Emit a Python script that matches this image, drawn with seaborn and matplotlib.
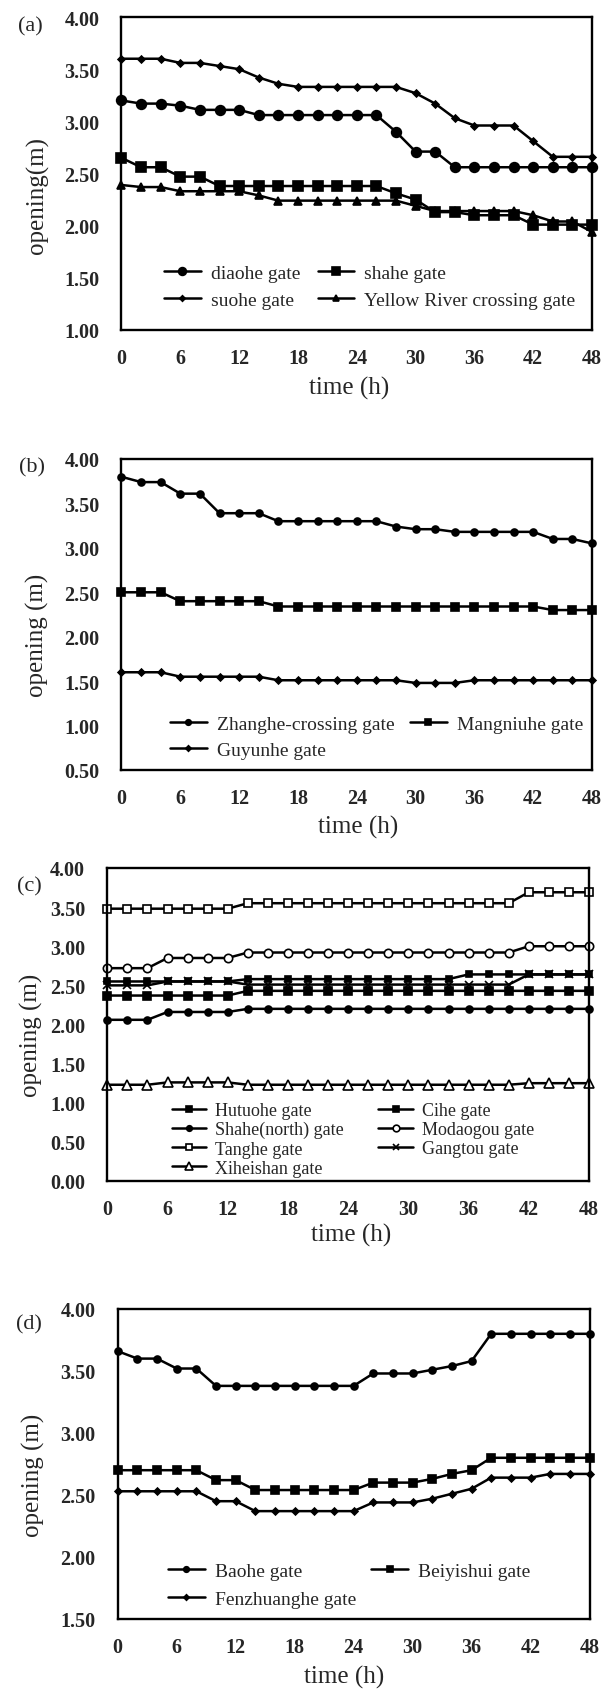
import matplotlib
matplotlib.use('Agg')
import matplotlib.pyplot as plt
import seaborn as sns

# time axis (h), one value every 2 hours
time_h = [0, 2, 4, 6, 8, 10, 12, 14, 16, 18, 20, 22, 24,
          26, 28, 30, 32, 34, 36, 38, 40, 42, 44, 46, 48]
xticks = [0, 6, 12, 18, 24, 30, 36, 42, 48]

# (a)
diaohe = [3.20, 3.17, 3.17, 3.15, 3.11, 3.11, 3.11, 3.06, 3.06, 3.06, 3.06, 3.06, 3.06,
          3.06, 2.90, 2.71, 2.71, 2.56, 2.56, 2.56, 2.56, 2.56, 2.56, 2.56, 2.56]
shahe = [2.65, 2.56, 2.56, 2.47, 2.47, 2.38, 2.38, 2.38, 2.38, 2.38, 2.38, 2.38, 2.38,
         2.38, 2.31, 2.25, 2.13, 2.13, 2.10, 2.10, 2.10, 2.01, 2.01, 2.01, 2.01]
suohe = [3.60, 3.60, 3.60, 3.56, 3.56, 3.53, 3.50, 3.42, 3.36, 3.33, 3.33, 3.33, 3.33,
         3.33, 3.33, 3.27, 3.17, 3.03, 2.96, 2.96, 2.96, 2.81, 2.66, 2.66, 2.66]
yellow_river = [2.39, 2.37, 2.37, 2.33, 2.33, 2.33, 2.33, 2.29, 2.24, 2.24, 2.24, 2.24, 2.24,
                2.24, 2.24, 2.19, 2.14, 2.14, 2.14, 2.14, 2.14, 2.10, 2.04, 2.04, 1.94]

# (b)
zhanghe = [3.80, 3.74, 3.74, 3.61, 3.61, 3.39, 3.39, 3.39, 3.30, 3.30, 3.30, 3.30, 3.30,
           3.30, 3.24, 3.21, 3.21, 3.18, 3.18, 3.18, 3.18, 3.18, 3.10, 3.10, 3.05]
mangniuhe = [2.50, 2.50, 2.50, 2.40, 2.40, 2.40, 2.40, 2.40, 2.34, 2.34, 2.34, 2.34, 2.34,
             2.34, 2.34, 2.34, 2.34, 2.34, 2.34, 2.34, 2.34, 2.34, 2.30, 2.30, 2.30]
guyunhe = [1.60, 1.60, 1.60, 1.55, 1.55, 1.55, 1.55, 1.55, 1.51, 1.51, 1.51, 1.51, 1.51,
           1.51, 1.51, 1.48, 1.48, 1.48, 1.51, 1.51, 1.51, 1.51, 1.51, 1.51, 1.51]

# (c)
hutuohe = [2.55, 2.55, 2.55, 2.55, 2.55, 2.55, 2.55, 2.58, 2.58, 2.58, 2.58, 2.58, 2.58,
           2.58, 2.58, 2.58, 2.58, 2.58, 2.64, 2.64, 2.64, 2.64, 2.64, 2.64, 2.64]
cihe = [2.37, 2.37, 2.37, 2.37, 2.37, 2.37, 2.37, 2.43, 2.43, 2.43, 2.43, 2.43, 2.43,
        2.43, 2.43, 2.43, 2.43, 2.43, 2.43, 2.43, 2.43, 2.43, 2.43, 2.43, 2.43]
shahe_north = [2.06, 2.06, 2.06, 2.16, 2.16, 2.16, 2.16, 2.20, 2.20, 2.20, 2.20, 2.20, 2.20,
               2.20, 2.20, 2.20, 2.20, 2.20, 2.20, 2.20, 2.20, 2.20, 2.20, 2.20, 2.20]
modaogou = [2.72, 2.72, 2.72, 2.85, 2.85, 2.85, 2.85, 2.92, 2.92, 2.92, 2.92, 2.92, 2.92,
            2.92, 2.92, 2.92, 2.92, 2.92, 2.92, 2.92, 2.92, 3.00, 3.00, 3.00, 3.00]
tanghe = [3.48, 3.48, 3.48, 3.48, 3.48, 3.48, 3.48, 3.55, 3.55, 3.55, 3.55, 3.55, 3.55,
          3.55, 3.55, 3.55, 3.55, 3.55, 3.55, 3.55, 3.55, 3.69, 3.69, 3.69, 3.69]
gangtou = [2.50, 2.50, 2.50, 2.55, 2.55, 2.55, 2.55, 2.51, 2.51, 2.51, 2.51, 2.51, 2.51,
           2.51, 2.51, 2.51, 2.51, 2.51, 2.51, 2.51, 2.51, 2.64, 2.64, 2.64, 2.64]
xiheishan = [1.23, 1.23, 1.23, 1.26, 1.26, 1.26, 1.26, 1.23, 1.23, 1.23, 1.23, 1.23, 1.23,
             1.23, 1.23, 1.23, 1.23, 1.23, 1.23, 1.23, 1.23, 1.25, 1.25, 1.25, 1.25]

# (d)
baohe = [3.66, 3.60, 3.60, 3.52, 3.52, 3.38, 3.38, 3.38, 3.38, 3.38, 3.38, 3.38, 3.38,
         3.48, 3.48, 3.48, 3.51, 3.54, 3.58, 3.80, 3.80, 3.80, 3.80, 3.80, 3.80]
beiyishui = [2.70, 2.70, 2.70, 2.70, 2.70, 2.62, 2.62, 2.54, 2.54, 2.54, 2.54, 2.54, 2.54,
             2.60, 2.60, 2.60, 2.63, 2.67, 2.70, 2.80, 2.80, 2.80, 2.80, 2.80, 2.80]
fenzhuanghe = [2.53, 2.53, 2.53, 2.53, 2.53, 2.45, 2.45, 2.37, 2.37, 2.37, 2.37, 2.37, 2.37,
               2.44, 2.44, 2.44, 2.47, 2.51, 2.55, 2.64, 2.64, 2.64, 2.67, 2.67, 2.67]

sns.set_theme(style='white')
plt.rcParams['font.family'] = ['Liberation Serif', 'DejaVu Serif']

W, H = 605, 1690
fig = plt.figure(figsize=(W / 100, H / 100), dpi=100)


def px_axes(left, top, right, bottom):
    return fig.add_axes([left / W, 1 - bottom / H, (right - left) / W, (bottom - top) / H])


def draw(ax, series, ylim, yticks):
    lines = {}
    for label, vals, mk, ms, face in series:
        sns.lineplot(x=time_h, y=vals, ax=ax, color='black', linewidth=1.8,
                     marker=mk, markersize=ms, markerfacecolor=face,
                     markeredgecolor='black', markeredgewidth=1.2,
                     clip_on=False, label=label)
        lines[label] = ax.lines[-1]
    ax.set_xlim(0, 48)
    ax.set_ylim(*ylim)
    ax.set_xticks(xticks)
    ax.set_yticks(yticks)
    ax.set_yticklabels(['%.2f' % v for v in yticks])
    ax.tick_params(axis='both', length=0, labelsize=14.5)
    ax.tick_params(axis='y', pad=16)
    ax.tick_params(axis='x', pad=13)
    for lab in ax.get_xticklabels() + ax.get_yticklabels():
        lab.set_fontweight('bold')
    for sp in ax.spines.values():
        sp.set_visible(True)
        sp.set_color('black')
        sp.set_linewidth(1.7)
    ax.set_xlabel('')
    ax.set_ylabel('')
    ax.get_legend().remove()
    return lines


def add_text(x, y, s, **kw):
    fig.text(x / W, 1 - y / H, s, ha='center', va='center', **kw)


def add_legend(ax, lines, order, x, y, size, spacing, colsp):
    ax.legend([lines[k] for k in order], order, loc='upper left',
              bbox_to_anchor=(x / W, 1 - y / H), bbox_transform=fig.transFigure,
              ncol=2, frameon=False, fontsize=size, borderpad=0, borderaxespad=0,
              handlelength=1.9, handletextpad=0.5, labelspacing=spacing,
              columnspacing=colsp, markerscale=0.8)


# ---- (a)
ax = px_axes(121.5, 18, 592, 331)
la = draw(ax, [('diaohe gate', diaohe, 'o', 7, 'black'),
               ('shahe gate', shahe, 's', 6.5, 'black'),
               ('suohe gate', suohe, 'D', 3.5, 'black'),
               ('Yellow River crossing gate', yellow_river, '^', 6, 'black')],
          (1.0, 4.0), [1.0, 1.5, 2.0, 2.5, 3.0, 3.5, 4.0])
add_legend(ax, la, ['diaohe gate', 'suohe gate', 'shahe gate', 'Yellow River crossing gate'],
           164, 265, 14, 0.5, 0.9)
add_text(30, 27, '(a)', fontsize=16)
add_text(37, 195, 'opening(m)', fontsize=18, rotation=90)
add_text(349, 388, 'time (h)', fontsize=18)

# ---- (b)
ax = px_axes(121.5, 460, 592, 771)
lb = draw(ax, [('Zhanghe-crossing gate', zhanghe, 'o', 5, 'black'),
               ('Mangniuhe gate', mangniuhe, 's', 6, 'black'),
               ('Guyunhe gate', guyunhe, 'D', 3.5, 'black')],
          (0.5, 4.0), [0.5, 1.0, 1.5, 2.0, 2.5, 3.0, 3.5, 4.0])
add_legend(ax, lb, ['Zhanghe-crossing gate', 'Guyunhe gate', 'Mangniuhe gate'],
           170, 716, 14, 0.43, 0.8)
add_text(32, 468, '(b)', fontsize=16)
add_text(37, 635, 'opening (m)', fontsize=18, rotation=90)
add_text(358, 827, 'time (h)', fontsize=18)

# ---- (c)
ax = px_axes(107.3, 869, 589, 1182)
lc = draw(ax, [('Hutuohe gate', hutuohe, 's', 5, 'black'),
               ('Cihe gate', cihe, 's', 6, 'black'),
               ('Shahe(north) gate', shahe_north, 'o', 5, 'black'),
               ('Modaogou gate', modaogou, 'o', 6, 'white'),
               ('Tanghe gate', tanghe, 's', 6, 'white'),
               ('Gangtou gate', gangtou, 'x', 6, 'black'),
               ('Xiheishan gate', xiheishan, '^', 6.5, 'white')],
          (0.0, 4.0), [0.0, 0.5, 1.0, 1.5, 2.0, 2.5, 3.0, 3.5, 4.0])
add_legend(ax, lc, ['Hutuohe gate', 'Shahe(north) gate', 'Tanghe gate', 'Xiheishan gate',
                    'Cihe gate', 'Modaogou gate', 'Gangtou gate'],
           172, 1103, 13, 0.12, 1.9)
add_text(29, 887, '(c)', fontsize=16)
add_text(31, 1035, 'opening (m)', fontsize=18, rotation=90)
add_text(351, 1235, 'time (h)', fontsize=18)

# ---- (d)
ax = px_axes(117.7, 1310, 589.5, 1620)
ld = draw(ax, [('Baohe gate', baohe, 'o', 5, 'black'),
               ('Beiyishui gate', beiyishui, 's', 6, 'black'),
               ('Fenzhuanghe gate', fenzhuanghe, 'D', 3.5, 'black')],
          (1.5, 4.0), [1.5, 2.0, 2.5, 3.0, 3.5, 4.0])
add_legend(ax, ld, ['Baohe gate', 'Fenzhuanghe gate', 'Beiyishui gate'],
           168, 1563, 14, 0.56, 0.8)
add_text(29, 1325, '(d)', fontsize=16)
add_text(33, 1475, 'opening (m)', fontsize=18, rotation=90)
add_text(344, 1677, 'time (h)', fontsize=18)

fig.savefig('out.png', dpi=100)
